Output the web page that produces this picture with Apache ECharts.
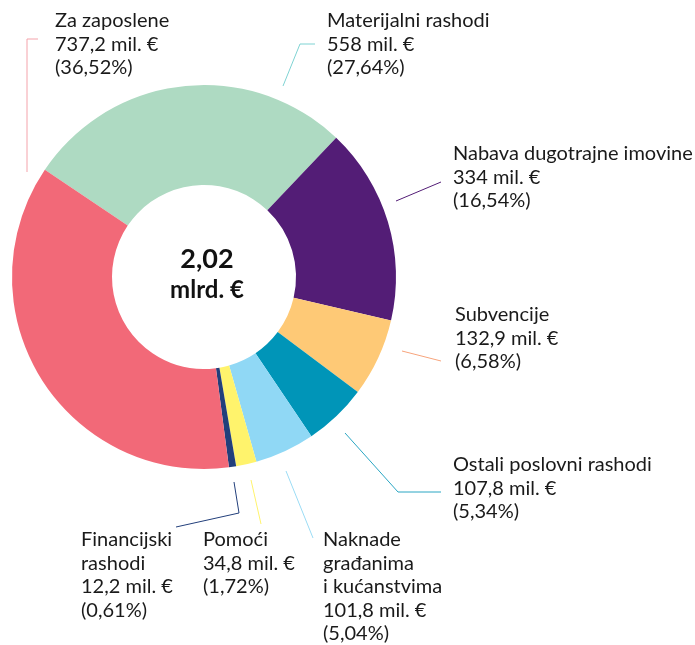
<!DOCTYPE html>
<html>
<head>
<meta charset="utf-8">
<script src="https://cdn.jsdelivr.net/npm/echarts@6/dist/echarts.min.js"></script>
<style>
  html, body { margin: 0; padding: 0; background: #fff; }
  #chart { width: 695px; height: 645px; }
</style>
</head>
<body>
<div id="chart"></div>
<script>
// clockwise from the upper left
const names = ["Materijalni rashodi", "Nabava dugotrajne imovine", "Subvencije", "Ostali poslovni rashodi",
  "Naknade\ngrađanima\ni kućanstvima", "Pomoći", "Financijski\nrashodi", "Za zaposlene"];
const values = [558, 334, 132.9, 107.8, 101.8, 34.8, 12.2, 737.2];
const shares = [27.64, 16.54, 6.58, 5.34, 5.04, 1.72, 0.61, 36.52];
const total = "2,02";

const colors = ["#aedac2", "#531d76", "#fec976", "#0095b8", "#90d8f5", "#fff36c", "#223f7b", "#f26978"];
const lineColors = ["#7fd3d3", "#531d76", "#f7a47c", "#2aa6c3", "#9bdcf5", "#fff36c", "#223f7b", "#f4a3ab"];

// label box (left, top) and leader line for each slice, in px
const labelPos = [[327, 9], [453, 142], [455, 303], [453, 453], [323, 528], [203, 528], [81, 528], [55, 9]];
const leaders = [
  [[283, 86], [300, 44], [315, 44]],
  [[396, 201], [441, 182]],
  [[402, 351], [441, 361]],
  [[345, 433], [398, 492], [441, 492]],
  [[286, 471], [313, 538]],
  [[251, 480], [261, 524]],
  [[234, 482], [239, 513], [176, 527]],
  [[27, 172], [27, 39], [38, 39]]
];

const font = "Lato";
const fmt = v => String(v).replace(".", ",");

const chart = echarts.init(document.getElementById("chart"));
chart.setOption({
  animation: false,
  graphic: [{
    type: "text",
    x: 207, y: 274,
    style: {
      text: "{a|" + total + "}\n{b|mlrd. €}",
      align: "center", verticalAlign: "middle",
      rich: {
        a: { fontFamily: font, fontWeight: "bold", fontSize: 27, lineHeight: 32, fill: "#111", align: "center" },
        b: { fontFamily: font, fontWeight: "bold", fontSize: 24, lineHeight: 30, fill: "#111", align: "center" }
      }
    }
  }],
  series: [{
    type: "pie",
    center: [204, 277],
    radius: [92, 192],
    startAngle: 146,
    clockwise: true,
    avoidLabelOverlap: false,
    silent: true,
    itemStyle: { borderWidth: 0 },
    label: {
      show: true,
      position: "outside",
      fontFamily: font,
      fontSize: 20,
      lineHeight: 23.5,
      color: "#1a1a1a",
      formatter: p => p.name + "\n" + fmt(p.value) + " mil. €\n(" + fmt(shares[p.dataIndex].toFixed(2)) + "%)"
    },
    labelLine: { show: true, lineStyle: { width: 1 } },
    labelLayout: p => ({
      x: labelPos[p.dataIndex][0],
      y: labelPos[p.dataIndex][1],
      align: "left",
      verticalAlign: "top",
      labelLinePoints: leaders[p.dataIndex]
    }),
    data: names.map((n, i) => ({
      name: n,
      value: values[i],
      itemStyle: { color: colors[i] },
      labelLine: { lineStyle: { color: lineColors[i] } }
    }))
  }]
});
</script>
</body>
</html>
